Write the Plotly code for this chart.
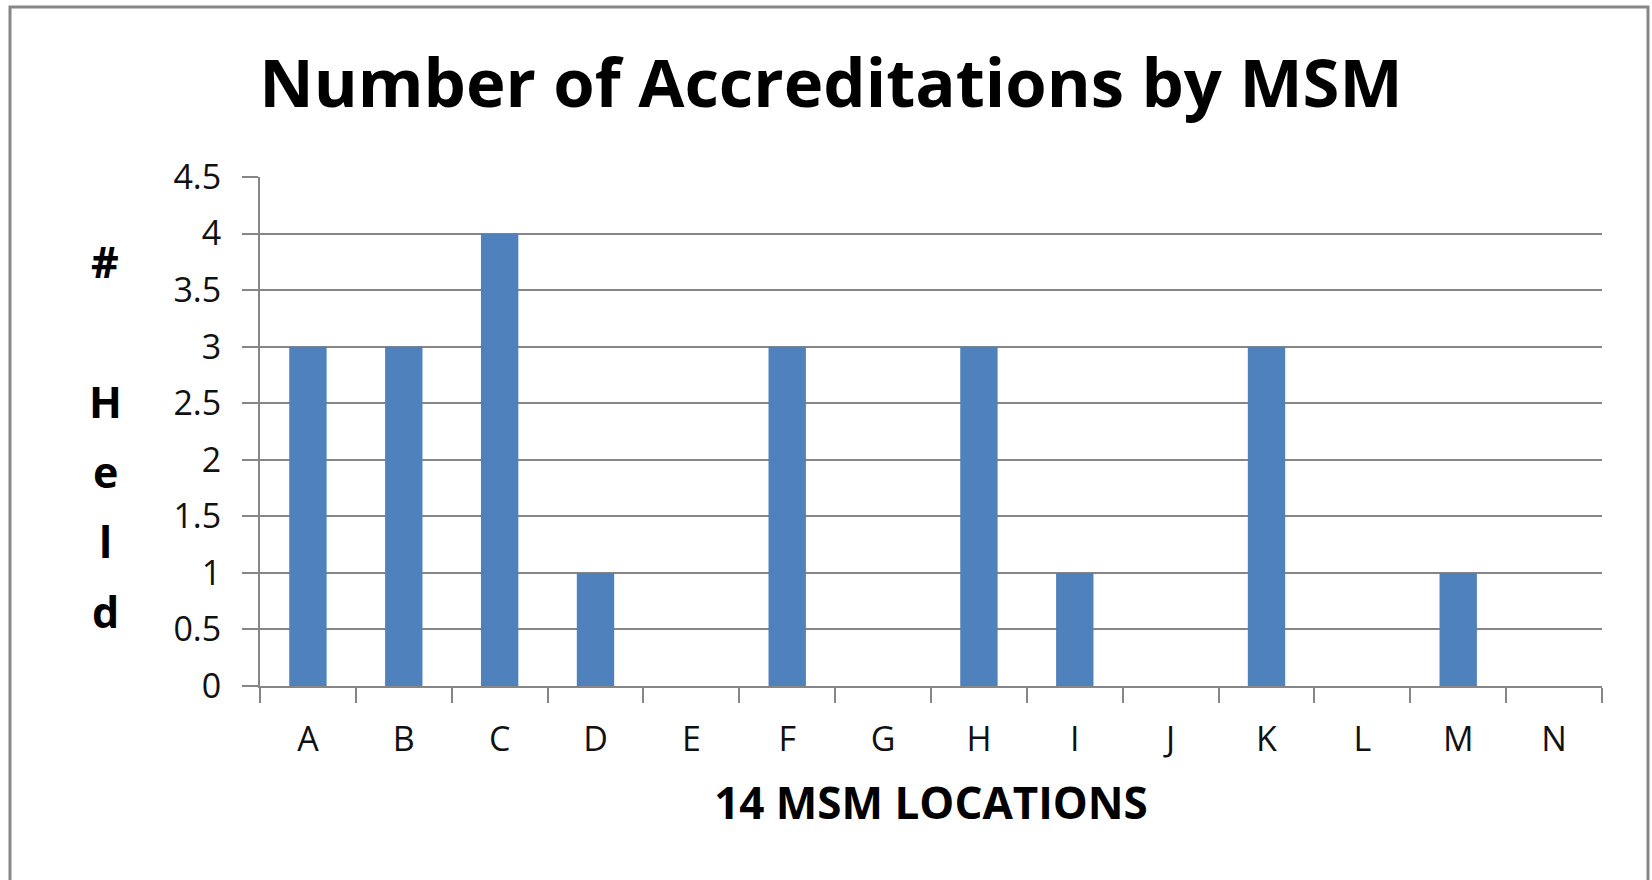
import plotly.graph_objects as go

categories = ["A", "B", "C", "D", "E", "F", "G", "H", "I", "J", "K", "L", "M", "N"]
accreditations = [3, 3, 4, 1, 0, 3, 0, 3, 1, 0, 3, 0, 1, 0]
y_ticks = [0, 0.5, 1, 1.5, 2, 2.5, 3, 3.5, 4, 4.5]
y_tick_labels = ["0", "0.5", "1", "1.5", "2", "2.5", "3", "3.5", "4", "4.5"]
title_text = "Number of Accreditations by MSM"
x_title_text = "14 MSM LOCATIONS"
y_title_letters = ["#", "", "H", "e", "l", "d"]

W, H = 1652, 880
L, R, T, B = 260, 50, 177, 194
pw, ph = W - L - R, H - T - B

FONT = "Open Sans"
fig = go.Figure()
fig.add_trace(go.Bar(
    x=categories, y=accreditations,
    marker=dict(color="#4F81BD", line=dict(width=0)),
    width=0.39,
))

annotations = []
# vertical y-axis title, one letter per line
baseline0 = 279
for i, ch in enumerate(y_title_letters):
    if not ch:
        continue
    yb = baseline0 + i * 70
    annotations.append(dict(
        text="<b>%s</b>" % ch, xref="paper", yref="paper",
        x=(105 - L) / pw, y=(H - B - yb) / ph,
        xanchor="center", yanchor="bottom", showarrow=False,
        font=dict(family=FONT, size=43, color="#000000"),
        yshift=-14,
    ))

fig.update_layout(
    width=W, height=H,
    margin=dict(l=L, r=R, t=T, b=B, autoexpand=False),
    paper_bgcolor="white", plot_bgcolor="white",
    showlegend=False,
    bargap=0.61,
    title=dict(text="<b>%s</b>" % title_text, x=0.503, xanchor="center",
               xref="container", y=1 - 84 / H, yanchor="middle", yref="container",
               font=dict(family=FONT, size=67, color="#000000")),
    xaxis=dict(
        type="category", tickson="boundaries", ticks="outside", ticklen=15,
        tickwidth=2, tickcolor="#868686", showline=True, linecolor="#868686",
        linewidth=2, showgrid=False, ticklabelstandoff=22,
        tickfont=dict(family=FONT, size=34, color="#111111"),
        title=dict(text="<b>%s</b>" % x_title_text,
                   font=dict(family=FONT, size=44, color="#000000"), standoff=28),
        range=[-0.5, 13.5],
    ),
    yaxis=dict(
        range=[0, 4.5], tickvals=y_ticks, ticktext=y_tick_labels,
        ticks="outside", ticklen=16, tickwidth=2, tickcolor="#868686",
        showline=True, linecolor="#868686", linewidth=2, ticklabelstandoff=14,
        showgrid=True, gridcolor="#868686", gridwidth=2, zeroline=False,
        tickfont=dict(family=FONT, size=34, color="#111111"),
    ),
    annotations=annotations,
    shapes=[dict(type="rect", xref="paper", yref="paper",
                 x0=(10 - L) / pw, x1=(1648 - L) / pw,
                 y0=(H - B - 900) / ph, y1=(H - B - 7) / ph,
                 line=dict(color="#878787", width=3), fillcolor="rgba(0,0,0,0)",
                 layer="below")],
)

fig.write_html("out.html", config={"displayModeBar": False},
               post_script="document.body.style.margin='0px';document.body.style.overflow='hidden';")
